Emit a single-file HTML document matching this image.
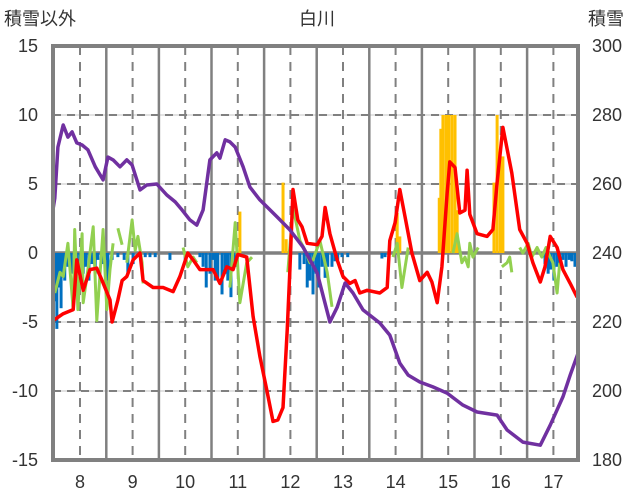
<!DOCTYPE html>
<html><head><meta charset="utf-8">
<style>
body{margin:0;background:#fff;}
svg{display:block;font-family:"Liberation Sans","Noto Sans CJK JP",sans-serif;}
</style></head>
<body>
<svg id="chart" width="636" height="501" viewBox="0 0 636 501">
<text x="317" y="25" font-size="18" text-anchor="middle" fill="#333">白川</text>
<text x="4" y="25" font-size="18" fill="#333">積雪以外</text>
<text x="588" y="25" font-size="18" fill="#333">積雪</text>
<g id="grid"></g>
<g id="bars"></g>
<g id="lines"></g>
<g id="frame"></g>
<g id="labels"></g>
</svg>
<script>
const monthTicks=[8,9,10,11,12,13,14,15,16,17];
const leftTicks=[-15,-10,-5,0,5,10,15];
const rightTicks=[180,200,220,240,260,280,300];

const blueT=[7.52,7.56,7.60,7.64,7.68,7.71,7.77,7.83,7.89,7.94,8.00,8.06,8.11,8.17,8.23,8.29,8.34,8.42,8.48,8.53,8.61,8.72,8.84,8.91,9.01,9.14,9.24,9.33,9.43,9.71,10.00,10.28,10.34,10.40,10.47,10.53,10.57,10.62,10.70,10.76,10.81,10.87,10.95,12.18,12.26,12.32,12.37,12.43,12.49,12.54,12.60,12.66,12.71,12.79,12.85,12.90,12.98,13.09,13.74,13.80,16.84,16.90,16.95,17.01,17.07,17.12,17.18,17.24,17.30,17.35,17.41];
const blueV=[-3.5,-5.5,-2.5,-4.0,-1.5,-2.0,-1.0,-1.5,-3.0,-1.0,-2.5,-1.5,-1.0,-2.0,-0.8,-1.5,-0.5,-0.8,-0.5,-2.0,-0.5,-0.3,-0.5,-1.5,-0.8,-0.3,-0.3,-0.3,-0.3,-0.5,-0.8,-0.3,-1.0,-2.5,-1.5,-0.5,-2.0,-1.8,-3.0,-1.5,-2.0,-3.2,-1.0,-1.2,-0.8,-2.5,-2.0,-3.0,-1.5,-2.5,-1.0,-1.8,-1.0,-1.0,-0.6,-0.5,-0.3,-0.3,-0.4,-0.3,-0.8,-1.5,-1.2,-2.0,-1.0,-0.8,-0.5,-1.0,-0.5,-0.6,-1.0];
const yellowT=[11.04,11.86,11.92,14.03,14.08,14.83,14.86,14.90,14.96,15.01,15.07,15.13,15.17,15.87,15.93,15.99,16.04];
const yellowV=[3.0,5.1,1.0,2.9,1.2,4.0,9.0,10,10,10,10,10,3.1,5.1,10,7.0,7.0];

const redT=[7.49,7.68,7.87,7.94,8.06,8.19,8.32,8.42,8.57,8.61,8.72,8.80,8.89,9.01,9.14,9.20,9.39,9.58,9.77,9.90,10.05,10.15,10.28,10.53,10.66,10.79,10.91,11.00,11.17,11.29,11.42,11.55,11.67,11.76,11.86,11.94,11.99,12.05,12.14,12.22,12.32,12.51,12.60,12.66,12.75,12.89,13.00,13.13,13.23,13.32,13.46,13.70,13.84,13.89,13.99,14.08,14.18,14.31,14.46,14.60,14.69,14.79,14.88,14.98,15.03,15.13,15.22,15.32,15.36,15.41,15.55,15.74,15.85,15.93,16.04,16.21,16.36,16.50,16.61,16.75,16.84,16.94,17.07,17.18,17.32,17.45];
const redV=[-4.9,-4.4,-4.1,-0.5,-2.7,-1.2,-1.1,-2.0,-3.4,-5.0,-3.4,-2.0,-1.7,-0.5,0,-2.0,-2.5,-2.5,-2.8,-1.7,0,-0.5,-1.2,-1.2,-2.2,-1.0,-1.2,-0.1,-0.3,-4.6,-7.5,-9.9,-12.2,-12.1,-11.2,-5.6,-1.2,4.6,2.4,1.9,0.7,0.6,1.2,3.3,1.4,-0.5,-1.7,-2.2,-2.0,-2.9,-2.7,-2.9,-2.5,0.9,2.2,4.6,2.6,0,-2.0,-1.4,-2.1,-3.6,-1.0,4.3,6.6,6.2,2.9,3.1,6.0,2.8,1.4,1.2,1.7,5.1,9.1,5.8,1.7,0.7,-0.7,-2.1,-1.0,1.2,0.4,-1.2,-2.2,-3.2];

const greenT=[7.52,7.62,7.68,7.77,7.87,7.90,7.96,8.04,8.06,8.15,8.25,8.32,8.44,8.51,8.57,8.63,null,8.72,8.80,null,8.89,8.99,9.05,9.10,9.18,9.20,null,9.96,10.05,10.15,10.22,null,10.85,10.95,11.04,11.17,11.27,null,11.95,12.05,12.18,12.28,12.37,12.43,12.56,12.70,12.79,null,13.95,14.03,14.12,14.24,null,15.09,15.17,15.26,15.32,15.38,15.41,15.47,15.57,null,16.02,16.12,16.17,16.21,null,16.36,16.42,16.52,16.59,16.69,16.78,16.86,16.94,16.99,17.07,17.12];
const greenV=[-2.9,-1.4,-1.7,0.7,-4.1,1.7,-4.1,1.4,-3.6,-1.2,1.9,-4.9,1.7,-4.1,-1.2,0.7,null,1.8,0.6,null,-0.7,2.4,0.2,1.2,-0.7,-2.2,null,0.4,-1.0,-0.3,-0.7,null,-2.5,2.2,-3.6,-0.7,-0.3,null,-1.4,3.3,0.9,0.2,-0.7,-0.5,0.9,-1.4,-3.9,null,-0.3,0.7,-2.5,0.4,null,0,1.4,-0.7,-0.3,-1.0,0.7,-0.3,0.4,null,-1.0,-0.7,-0.3,-1.4,null,0.4,0,0.7,-0.3,0.4,-0.3,0.4,-0.3,-0.7,-2.9,-0.7];

const snowT=[7.49,7.52,7.58,7.68,7.77,7.85,7.94,8.04,8.15,8.29,8.44,8.53,8.63,8.76,8.89,8.99,9.14,9.27,9.46,9.65,9.81,9.94,10.09,10.22,10.34,10.47,10.60,10.66,10.76,10.85,10.95,11.10,11.23,11.42,11.75,11.99,12.24,12.51,12.75,12.89,13.04,13.19,13.38,13.70,13.89,14.08,14.24,14.46,14.71,14.98,15.28,15.55,15.93,16.12,16.42,16.75,16.94,17.18,17.32,17.47];
const snowV=[253,255.9,270.7,277.1,273.6,275.1,271.9,271.3,269.9,265.0,261.2,267.8,267.0,265.0,267.0,265.5,258.3,259.7,260.0,256.8,254.8,252.5,249.6,248.1,252.5,267.0,269.0,267.5,272.8,272.2,270.7,265.0,259.1,255.4,250.4,246.7,241.7,234.2,220.0,224.3,231.3,228.4,223.5,219.7,216.2,208.1,204.6,202.6,201.2,199.4,195.9,193.9,193.0,188.7,185.2,184.3,190.1,198.3,204.6,211.0];

const L=53,R=578,T=46,B=460;
const xs=t=>80+(t-8)*52.6;
const yl=v=>253-v*13.8;
const yr=v=>B-(v-180)*(B-T)/120;
const NS='http://www.w3.org/2000/svg';
function mk(tag,parent,attrs){const e=document.createElementNS(NS,tag);for(const k in attrs)e.setAttribute(k,attrs[k]);parent.appendChild(e);return e;}
const grid=document.getElementById('grid'),bars=document.getElementById('bars'),lines=document.getElementById('lines'),frame=document.getElementById('frame'),labels=document.getElementById('labels');

leftTicks.forEach(v=>{
  if(v===15||v===-15||v===0)return;
  const y=yl(v);
  const l1=mk('line',grid,{x1:L,x2:R,y1:y,y2:y,stroke:'#d9d9d9','stroke-width':1.5});
  
  
  const l2=mk('line',grid,{x1:L,x2:R,y1:y,y2:y,stroke:'#808080','stroke-width':2,'stroke-dasharray':'8,6'});
  
  
});
monthTicks.forEach(m=>{
  const x=xs(m);
  const d=mk('line',grid,{x1:x,x2:x,y1:T,y2:B,stroke:'#808080','stroke-width':2,'stroke-dasharray':'9,7'});
  
  
  const xb=xs(m+0.5);
  if(xb<R-5){
    const s=mk('line',grid,{x1:xb,x2:xb,y1:T,y2:B,stroke:'#808080','stroke-width':2.5});
    
    
  }
  const tx=mk('text',labels,{x:x,y:488,'font-size':18,'text-anchor':'middle',fill:'#333'});
  tx.textContent=m;
  
  
});
leftTicks.forEach(v=>{
  const tx=mk('text',labels,{x:38,y:yl(v)+6,'font-size':18,'text-anchor':'end',fill:'#333'});
  tx.textContent=v;
  
  
});
rightTicks.forEach(v=>{
  const tx=mk('text',labels,{x:592,y:yr(v)+6,'font-size':18,fill:'#333'});
  tx.textContent=v;
  
  
});
blueT.forEach((t,i)=>{
  const y0=yl(0),y1=yl(blueV[i]);
  const r=mk('rect',bars,{x:xs(t)-1.5,y:Math.min(y0,y1),width:3,height:Math.abs(y1-y0),fill:'#0070c0'});
  
  
});
yellowT.forEach((t,i)=>{
  const y0=yl(0),y1=yl(yellowV[i]);
  const r=mk('rect',bars,{x:xs(t)-1.5,y:Math.min(y0,y1),width:3,height:Math.abs(y1-y0),fill:'#ffc000'});
  
  
});
const z=mk('line',grid,{x1:L,x2:R,y1:yl(0),y2:yl(0),stroke:'#808080','stroke-width':3.5});


bars.parentNode.insertBefore(bars,z.nextSibling);
bars.parentNode.appendChild(lines);bars.parentNode.appendChild(frame);bars.parentNode.appendChild(labels);

function path(T_,V_,fy){let d='',pen=false;T_.forEach((t,i)=>{const v=V_[i];if(t===null||v===null){pen=false;return;}d+=(pen?'L':'M')+xs(t).toFixed(1)+','+fy(v).toFixed(1);pen=true;});return d;}
const pg=mk('path',lines,{d:path(greenT,greenV,yl),fill:'none',stroke:'#92d050','stroke-width':3,'stroke-linejoin':'round'});


const pr=mk('path',lines,{d:path(redT,redV,yl),fill:'none',stroke:'#ff0000','stroke-width':3.5,'stroke-linejoin':'round'});


const pp=mk('path',lines,{d:path(snowT,snowV,yr),fill:'none',stroke:'#7030a0','stroke-width':3.5,'stroke-linejoin':'round'});


const fr=mk('rect',frame,{x:L,y:T,width:R-L,height:B-T,fill:'none',stroke:'#808080','stroke-width':4});


</script>
</body></html>
